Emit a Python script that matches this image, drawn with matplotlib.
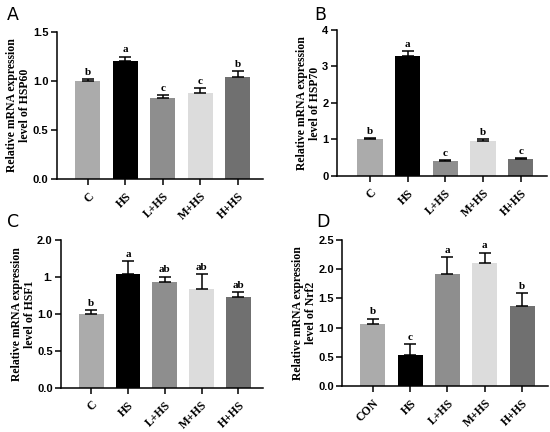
import matplotlib
matplotlib.use("Agg")
import matplotlib.pyplot as plt

cats_abc = ["C", "HS", "L+HS", "M+HS", "H+HS"]
cats_d = ["CON", "HS", "L+HS", "M+HS", "H+HS"]

hsp60 = [1.00, 1.20, 0.83, 0.875, 1.045]
hsp60_err = [0.02, 0.05, 0.03, 0.055, 0.055]
hsp60_sig = ["b", "a", "c", "c", "b"]

hsp70 = [1.00, 3.30, 0.40, 0.95, 0.47]
hsp70_err = [0.03, 0.13, 0.04, 0.05, 0.02]
hsp70_sig = ["b", "a", "c", "b", "c"]

hsf1 = [1.00, 1.545, 1.43, 1.34, 1.23]
hsf1_err = [0.05, 0.17, 0.075, 0.20, 0.07]
hsf1_sig = ["b", "a", "ab", "ab", "ab"]
hsf1_ticks = [0.0, 0.5, 1.0, 1.5, 2.0]
hsf1_ticklabels = ["0.0", "0.5", "1.0", "1.", "2.0"]

nrf2 = [1.055, 0.525, 1.91, 2.105, 1.365]
nrf2_err = [0.10, 0.19, 0.29, 0.18, 0.225]
nrf2_sig = ["b", "c", "a", "a", "b"]

colors = ["#ababab", "#000000", "#8e8e8e", "#dcdcdc", "#707070"]

fig = plt.figure(figsize=(5.5, 4.32), dpi=100)

serif = "Liberation Serif"
sans = "Liberation Sans"


def panel(rect, cats, vals, errs, sig, ylim, ticks, ticklabels, gene, letter, letter_pos, xlim):
    ax = fig.add_axes(rect)
    x = list(range(len(cats)))
    ax.bar(x, vals, width=0.67, color=colors, zorder=2)
    ax.errorbar(x, vals, yerr=[[0] * len(vals), errs], fmt="none", ecolor="black",
                elinewidth=1.1, capsize=4.5, capthick=1.1, zorder=3)
    rng = ylim[1] - ylim[0]
    for xi, v, e, s in zip(x, vals, errs, sig):
        ax.text(xi, v + e + rng * 0.015, s, ha="center", va="bottom",
                fontfamily=serif, fontweight="bold", fontsize=8)
    ax.set_ylim(*ylim)
    ax.set_xlim(*xlim)
    ax.set_yticks(ticks)
    ax.set_yticklabels(ticklabels, fontfamily=sans, fontweight="bold", fontsize=8)
    ax.set_xticks(x)
    ax.set_xticklabels(cats, rotation=45, ha="right", rotation_mode="anchor",
                       fontfamily=serif, fontweight="bold", fontsize=8.5)
    ax.tick_params(axis="both", direction="out", length=4, width=1.1, pad=2)
    ax.tick_params(axis="x", pad=4)
    for sp in ["top", "right"]:
        ax.spines[sp].set_visible(False)
    for sp in ["left", "bottom"]:
        ax.spines[sp].set_linewidth(1.1)
    ax.set_ylabel("Relative mRNA expression\nlevel of " + gene, fontfamily=serif,
                  fontweight="bold", fontsize=8.5, labelpad=1, linespacing=1.1)
    fig.text(letter_pos[0], letter_pos[1], letter, fontsize=12.5, fontfamily="DejaVu Sans",
             ha="left", va="center")
    return ax


panel([0.1031, 0.5856, 0.3745, 0.3403], cats_abc, hsp60, hsp60_err, hsp60_sig,
      (0, 1.5), [0, 0.5, 1.0, 1.5], ["0.0", "0.5", "1.0", "1.5"], "HSP60", "A",
      (0.012, 0.965), (-0.82, 4.66))
panel([0.6122, 0.5926, 0.3818, 0.338], cats_abc, hsp70, hsp70_err, hsp70_sig,
      (0, 4), [0, 1, 2, 3, 4], ["0", "1", "2", "3", "4"], "HSP70", "B",
      (0.572, 0.965), (-0.88, 4.69))
panel([0.111, 0.1019, 0.3665, 0.3425], cats_abc, hsf1, hsf1_err, hsf1_sig,
      (0, 2.0), hsf1_ticks, hsf1_ticklabels, "HSF1", "C",
      (0.012, 0.485), (-0.82, 4.66))
panel([0.622, 0.1065, 0.374, 0.338], cats_d, nrf2, nrf2_err, nrf2_sig,
      (0, 2.5), [0, 0.5, 1.0, 1.5, 2.0, 2.5], ["0.0", "0.5", "1.0", "1.5", "2.0", "2.5"],
      "Nrf2", "D", (0.575, 0.485), (-0.82, 4.69))

fig.savefig("out.png", dpi=100)
